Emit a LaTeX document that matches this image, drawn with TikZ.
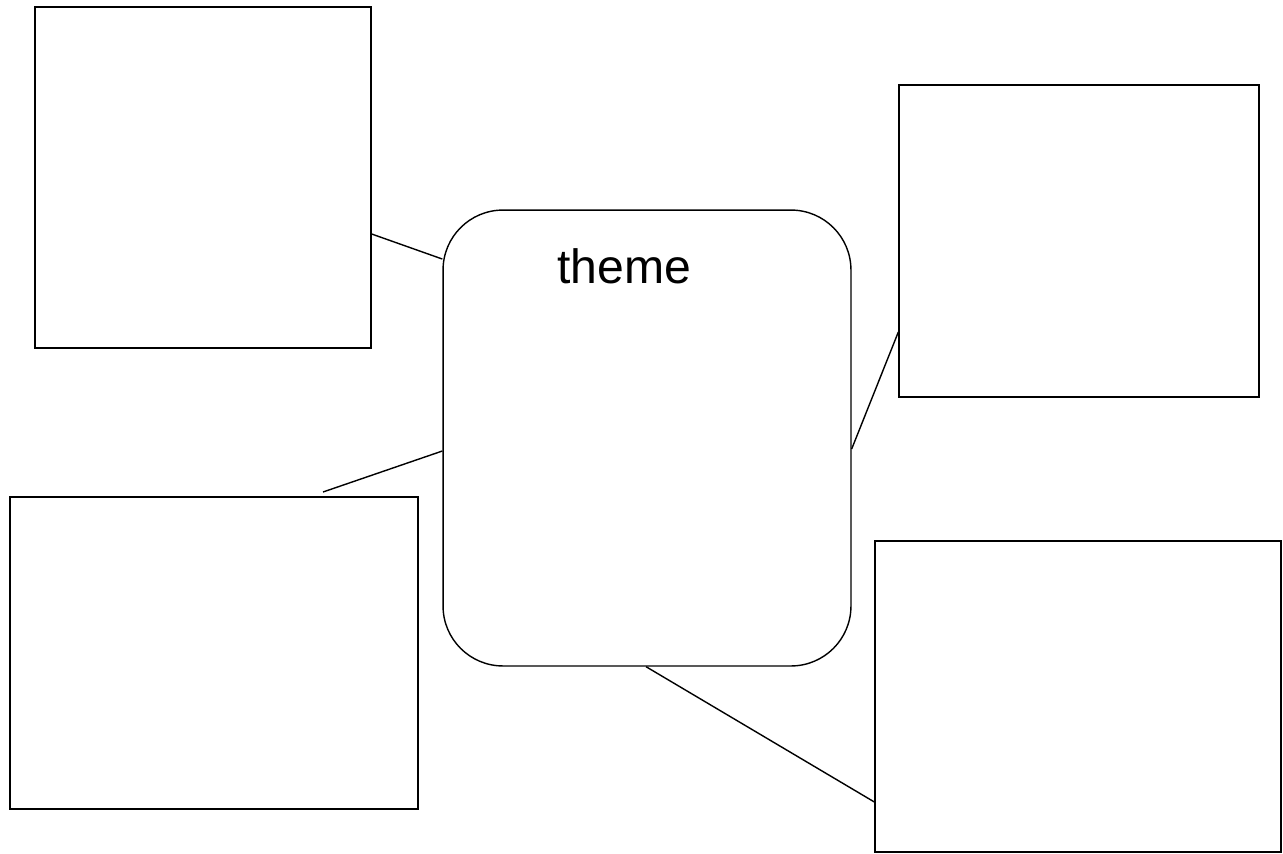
\documentclass[tikz,border=0pt]{standalone}
\usepackage{fontspec}
\setmainfont{Liberation Sans}
\usepackage{tikz}

\begin{document}
\begin{tikzpicture}[x=.02cm,y=-.02cm,line width=.8pt,
  box/.style={draw,rectangle,inner sep=0pt}]
\useasboundingbox (0,0) rectangle (1283,853);
\node[box,minimum width=6.72cm,minimum height=6.82cm] (tl) at (203,177.5) {};
\node[box,minimum width=7.2cm,minimum height=6.24cm] (tr) at (1079,241) {};
\node[box,minimum width=8.16cm,minimum height=6.24cm] (bl) at (214,653) {};
\node[box,minimum width=8.12cm,minimum height=6.22cm] (br) at (1078,696.5) {};
\node[box,rounded corners=1.2cm,minimum width=8.16cm,minimum height=9.12cm] (theme) at (647,438) {};
\node[anchor=base,inner sep=0pt,font=\fontsize{27.4}{32}\selectfont] (title) at (624,283) {theme};
\coordinate (blend) at (323,492);
\draw ([yshift=-1.13cm]tl.east)--([yshift=3.58cm]theme.west) (blend)--([yshift=-.26cm]theme.west) ([yshift=-.22cm]theme.east)--([yshift=-1.82cm]tr.west) ([xshift=-.02cm]theme.south)--([yshift=-2.11cm]br.west);
\end{tikzpicture}
\end{document}
